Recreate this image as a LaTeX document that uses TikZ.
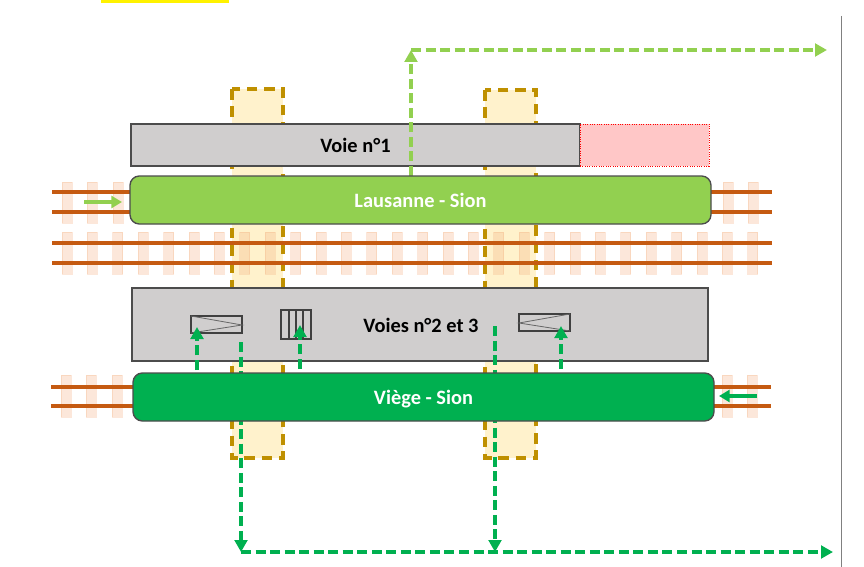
\documentclass[tikz,border=0pt]{standalone}
\usepackage{xcolor}
\usepackage{fontspec}
\setmainfont{Carlito}
\usetikzlibrary{arrows.meta}

\definecolor{lightgreen}{HTML}{92D050}
\definecolor{darkgreen}{HTML}{00B050}
\definecolor{platformgray}{HTML}{D0CECE}
\definecolor{railbrown}{HTML}{C55A11}
\definecolor{tiepeach}{HTML}{F4B183}
\definecolor{crossyellow}{HTML}{FFF2CC}
\definecolor{crossgold}{HTML}{BF9000}
\newcommand{\px}{0.75pt}

\tikzset{
  crossing/.style={fill=crossyellow,draw=crossgold,line width=2.5pt,dash pattern=on 8pt off 5pt},
  tie/.style={fill=tiepeach,fill opacity=0.3,draw=tiepeach,draw opacity=0.3,line width=0.6pt},
  rail/.style={draw=railbrown,line width=2.3pt},
  block/.style={anchor=north west,inner sep=0pt,outer sep=0pt,font=\bfseries\fontsize{15.3}{18}\selectfont},
  platform/.style={block,fill=platformgray,draw=black!70,line width=1pt},
  train/.style={block,rounded corners=7pt,draw=black!70,line width=1pt,text=white,text depth=0pt},
  equip/.style={draw=black!75,line width=0.8pt},
  flow/.style={line width=3pt,dash pattern=on 7.5pt off 3.4pt,-{Triangle[length=9pt,width=9.5pt]}},
  dir/.style={line width=3pt,-{Triangle[length=8pt,width=9pt]}},
}

\begin{document}
\begin{tikzpicture}[x=\px,y=-\px]
    \useasboundingbox (0,0) rectangle (864,567);

    % page leftovers
    \fill[yellow] (101,0) rectangle (229,3);
    \draw[gray,line width=0.6pt] (841,16) -- (841,567);

    % crossings
    \draw[crossing] (232,89) rectangle (283,458);
    \draw[crossing] (485,90) rectangle (536,458);

    % tracks
    \foreach \i in {0,...,27} {
        \pgfmathsetmacro{\tx}{67+\i*25.4}
        \draw[tie] (\tx-5,232) rectangle (\tx+5,274);
    }
    \foreach \tx in {67,92,118,728,753} {
        \draw[tie] (\tx-5,182) rectangle (\tx+5,223);
    }
    \foreach \tx in {66,91,117,727,752} {
        \draw[tie] (\tx-5,375) rectangle (\tx+5,417);
    }
    \foreach \ry in {192,212} {
        \draw[rail] (52,\ry) -- (772,\ry);
    }
    \foreach \ry in {243,263} {
        \draw[rail] (52,\ry) -- (772,\ry);
    }
    \foreach \ry in {387,406} {
        \draw[rail] (51,\ry) -- (771,\ry);
    }

    % platforms
    \node[platform,minimum width=449*\px,minimum height=42*\px] (voie1) at (131,124) {Voie n°1};
    \node[anchor=north west,inner sep=0pt,outer sep=0pt,fill=red!22,draw=red,line width=0.75pt,densely dotted,minimum width=129*\px,minimum height=42*\px] (reserve) at (580,124) {};
    \node[platform,minimum width=576*\px,minimum height=73*\px] (voie2) at (132,288) {};
    \node[font=\bfseries\fontsize{15.3}{18}\selectfont] (voie2label) at (421,325) {Voies n°2 et 3};

    % equipment on the platform
    \draw[equip,fill=platformgray] (191,316) rectangle (242,333);
    \draw[black!60,line width=0.6pt] (191,316) -- (242,325) -- (191,333);
    \draw[equip,fill=platformgray] (519,314) rectangle (570,331);
    \draw[black!60,line width=0.6pt] (570,314) -- (519,323) -- (570,331);
    \draw[equip,fill=platformgray] (281,310) rectangle (311,339);
    \foreach \sx in {289,296,303} {
        \draw[equip] (\sx,310) -- (\sx,339);
    }

    % passenger flows
    \coordinate (upA) at (411,176);
    \coordinate (upB) at (411,50);
    \coordinate (upC) at (827,50);
    \coordinate (exitA) at (241,342);
    \coordinate (exitAb) at (241,552);
    \coordinate (exitB) at (495,326);
    \coordinate (exitBb) at (495,552);
    \coordinate (exitC) at (833,552);
    \coordinate (boardA) at (197,370);
    \coordinate (boardAt) at (197,327);
    \coordinate (boardB) at (300,369);
    \coordinate (boardBt) at (300,325);
    \coordinate (boardC) at (561,369);
    \coordinate (boardCt) at (561,326);

    \draw[flow,lightgreen] (upA) -- (upB);
    \draw[flow,lightgreen] (upB) -- (upC);
    \draw[flow,darkgreen] (exitA) -- (exitAb);
    \draw[flow,darkgreen] (exitB) -- (exitBb);
    \draw[flow,darkgreen] (exitAb) -- (exitC);
    \draw[flow,darkgreen] (boardA) -- (boardAt);
    \draw[flow,darkgreen] (boardB) -- (boardBt);
    \draw[flow,darkgreen] (boardC) -- (boardCt);

    % trains
    \node[train,fill=lightgreen,minimum width=581*\px,minimum height=48*\px] (lausanne) at (130,176) {Lausanne - Sion};
    \node[train,fill=darkgreen,minimum width=581*\px,minimum height=48*\px] (viege) at (133,373) {Viège - Sion};

    % running direction
    \coordinate (inA) at (84,202);
    \coordinate (inB) at (122,202);
    \coordinate (inC) at (757,396);
    \coordinate (inD) at (719,396);
    \draw[dir,lightgreen] (inA) -- (inB);
    \draw[dir,darkgreen] (inC) -- (inD);
\end{tikzpicture}
\end{document}
